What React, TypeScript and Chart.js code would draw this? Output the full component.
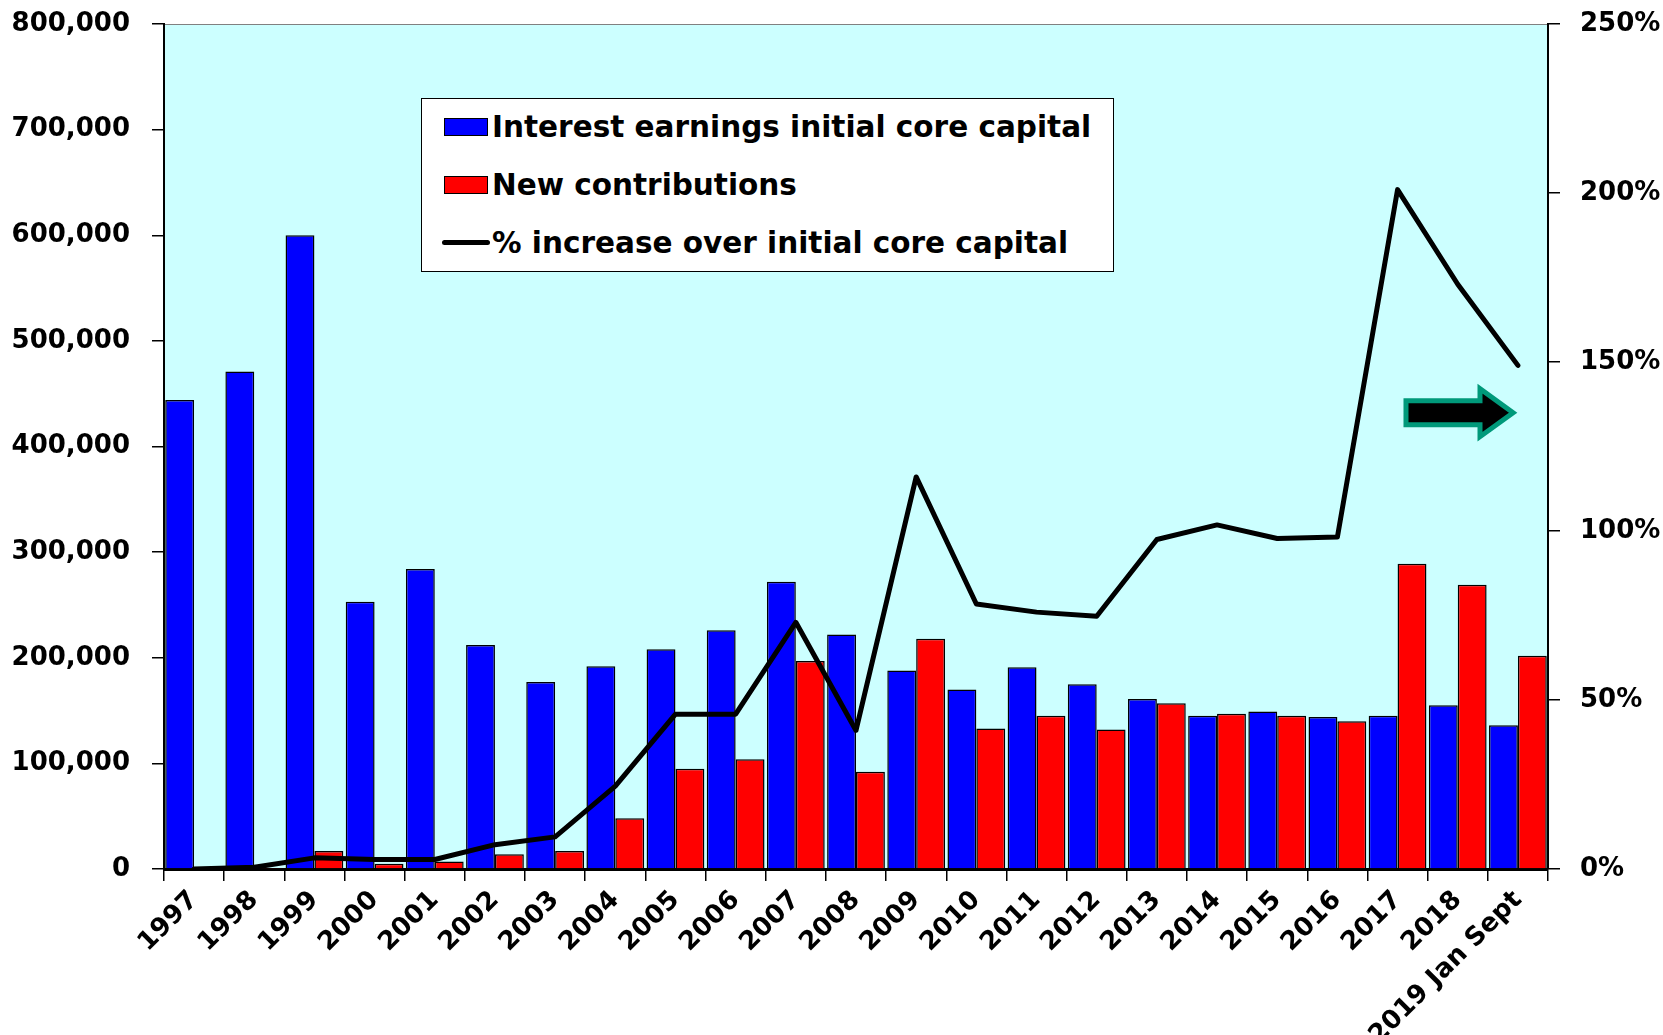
import React, { useEffect, useRef } from "react";
import { Chart, registerables } from "chart.js";

Chart.register(...registerables);

const categories = [
  "1997", "1998", "1999", "2000", "2001", "2002", "2003", "2004", "2005", "2006",
  "2007", "2008", "2009", "2010", "2011", "2012", "2013", "2014", "2015", "2016",
  "2017", "2018", "2019 Jan Sept",
];

const interestEarnings = [
  444000, 471000, 600000, 253000, 284000, 212000, 177000, 192000, 208000, 226000,
  272000, 222000, 188000, 170000, 191000, 175000, 161000, 145000, 149000, 144000,
  145000, 155000, 136000,
];

const newContributions = [
  0, 1000, 17000, 5000, 7000, 14000, 17000, 48000, 95000, 104000,
  197000, 92000, 218000, 133000, 145000, 132000, 157000, 147000, 145000, 140000,
  289000, 269000, 202000,
];

const pctIncrease = [
  0, 0.5, 3.3, 2.8, 2.8, 7.2, 9.5, 24.5, 45.8, 45.8,
  73, 41, 116, 78.4, 76, 74.8, 97.5, 101.8, 97.8, 98.2,
  201, 173, 149,
];

const leftAxis = { min: 0, max: 800000, step: 100000 };
const rightAxis = { min: 0, max: 250, step: 50 };

const legendLabels = [
  "Interest earnings initial core capital",
  "New contributions",
  "% increase over initial core capital",
];

const FONT = "'DejaVu Sans', 'Liberation Sans', Arial, sans-serif";

const backgroundPlugin = {
  id: "plotBg",
  beforeDraw(chart: any) {
    const { ctx, chartArea } = chart;
    ctx.save();
    ctx.fillStyle = "#CCFFFF";
    ctx.fillRect(chartArea.left, chartArea.top, chartArea.right - chartArea.left, chartArea.bottom - chartArea.top);
    ctx.strokeStyle = "#808080";
    ctx.lineWidth = 1;
    ctx.beginPath();
    ctx.moveTo(chartArea.left, chartArea.top + 0.5);
    ctx.lineTo(chartArea.right, chartArea.top + 0.5);
    ctx.stroke();
    ctx.restore();
  },
};

const arrowPlugin = {
  id: "arrow",
  afterDatasetsDraw(chart: any) {
    const { ctx } = chart;
    const xs = chart.scales.x;
    const ys = chart.scales.y1;
    const cw = xs.getPixelForValue(1) - xs.getPixelForValue(0);
    const left = xs.getPixelForValue(20) + 0.14 * cw;
    const headBase = xs.getPixelForValue(21) + 0.37 * cw;
    const tip = xs.getPixelForValue(22) - 0.08 * cw;
    const cy = ys.getPixelForValue(135);
    const bh = 12;
    const hh = 24;
    ctx.save();
    ctx.beginPath();
    ctx.moveTo(left, cy - bh);
    ctx.lineTo(headBase, cy - bh);
    ctx.lineTo(headBase, cy - hh);
    ctx.lineTo(tip, cy);
    ctx.lineTo(headBase, cy + hh);
    ctx.lineTo(headBase, cy + bh);
    ctx.lineTo(left, cy + bh);
    ctx.closePath();
    ctx.fillStyle = "#000000";
    ctx.fill();
    ctx.lineWidth = 5;
    ctx.strokeStyle = "#00997A";
    ctx.lineJoin = "miter";
    ctx.stroke();
    ctx.restore();
  },
};

export default function App() {
  const canvasRef = useRef<HTMLCanvasElement | null>(null);

  useEffect(() => {
    document.body.style.margin = "0";
    const canvas = canvasRef.current;
    if (!canvas) return;
    const tickFont = { family: FONT, size: 26, weight: "bold" as const };
    const chart = new Chart(canvas, {
      type: "bar",
      data: {
        labels: categories,
        datasets: [
          {
            type: "line" as const,
            label: legendLabels[2],
            data: pctIncrease,
            yAxisID: "y1",
            borderColor: "#000000",
            borderWidth: 5,
            pointRadius: 0,
            tension: 0,
            borderJoinStyle: "round",
            borderCapStyle: "round",
            order: 0,
          } as any,
          {
            type: "bar" as const,
            label: legendLabels[0],
            data: interestEarnings,
            yAxisID: "y",
            backgroundColor: "#0000FF",
            borderColor: "#000000",
            borderWidth: 1.5,
            categoryPercentage: 0.96,
            barPercentage: 1.0,
            order: 1,
          },
          {
            type: "bar" as const,
            label: legendLabels[1],
            data: newContributions,
            yAxisID: "y",
            backgroundColor: "#FF0000",
            borderColor: "#000000",
            borderWidth: 1.5,
            categoryPercentage: 0.96,
            barPercentage: 1.0,
            order: 1,
          },
        ],
      },
      options: {
        animation: false,
        responsive: false,
        maintainAspectRatio: false,
        layout: { padding: { top: 24, left: 0, right: 0, bottom: 0 } },
        plugins: {
          legend: { display: false },
          tooltip: { enabled: false },
        },
        scales: {
          x: {
            offset: true,
            grid: {
              offset: true,
              drawOnChartArea: false,
              drawTicks: true,
              tickLength: 12,
              color: "#000000",
              lineWidth: 1.5,
            },
            border: { display: true, color: "#000000", width: 3 },
            ticks: {
              autoSkip: false,
              maxRotation: 45,
              minRotation: 45,
              color: "#000000",
              font: tickFont,
              padding: 4,
            },
            afterFit(scale: any) {
              scale.height = 1035 - 869;
            },
          },
          y: {
            position: "left",
            min: leftAxis.min,
            max: leftAxis.max,
            grid: {
              drawOnChartArea: false,
              drawTicks: true,
              tickLength: 12,
              color: "#000000",
              lineWidth: 1.5,
            },
            border: { display: true, color: "#000000", width: 2 },
            ticks: {
              stepSize: leftAxis.step,
              color: "#000000",
              font: tickFont,
              padding: 22,
              callback: (v: any) => Number(v).toLocaleString("en-US"),
            },
            afterFit(scale: any) {
              scale.width = 164;
              scale.paddingTop = 12;
              scale.paddingBottom = 12;
            },
          },
          y1: {
            position: "right",
            min: rightAxis.min,
            max: rightAxis.max,
            grid: {
              drawOnChartArea: false,
              drawTicks: true,
              tickLength: 12,
              color: "#000000",
              lineWidth: 1.5,
            },
            border: { display: true, color: "#000000", width: 2 },
            ticks: {
              stepSize: rightAxis.step,
              color: "#000000",
              font: tickFont,
              padding: 20,
              callback: (v: any) => `${v}%`,
            },
            afterFit(scale: any) {
              scale.width = 1663 - 1548;
              scale.paddingTop = 12;
              scale.paddingBottom = 12;
            },
          },
        },
      },
      plugins: [backgroundPlugin, arrowPlugin],
    });
    return () => chart.destroy();
  }, []);

  const rowCenters = [28, 86, 144];
  const textStyle: React.CSSProperties = {
    position: "absolute",
    left: 70,
    fontFamily: FONT,
    fontWeight: "bold",
    fontSize: 29.5,
    lineHeight: "30px",
    whiteSpace: "nowrap",
    color: "#000",
  };

  return (
    <div style={{ position: "absolute", left: 0, top: 0, width: 1663, height: 1035, background: "#fff" }}>
      <canvas ref={canvasRef} width={1663} height={1035} style={{ display: "block", width: 1663, height: 1035 }} />
      <div
        style={{
          position: "absolute",
          left: 421,
          top: 98,
          width: 693,
          height: 174,
          boxSizing: "border-box",
          background: "#fff",
          border: "1.5px solid #000",
        }}
      >
        <div style={{ position: "absolute", left: 22, top: rowCenters[0] - 9, width: 44, height: 18, boxSizing: "border-box", background: "#0000FF", border: "1.5px solid #000" }} />
        <div style={{ ...textStyle, top: rowCenters[0] - 15 }}>{legendLabels[0]}</div>
        <div style={{ position: "absolute", left: 22, top: rowCenters[1] - 9, width: 44, height: 18, boxSizing: "border-box", background: "#FF0000", border: "1.5px solid #000" }} />
        <div style={{ ...textStyle, top: rowCenters[1] - 15 }}>{legendLabels[1]}</div>
        <div style={{ position: "absolute", left: 20, top: rowCenters[2] - 3, width: 48, height: 5, background: "#000", borderRadius: 3 }} />
        <div style={{ ...textStyle, top: rowCenters[2] - 15 }}>{legendLabels[2]}</div>
      </div>
    </div>
  );
}
